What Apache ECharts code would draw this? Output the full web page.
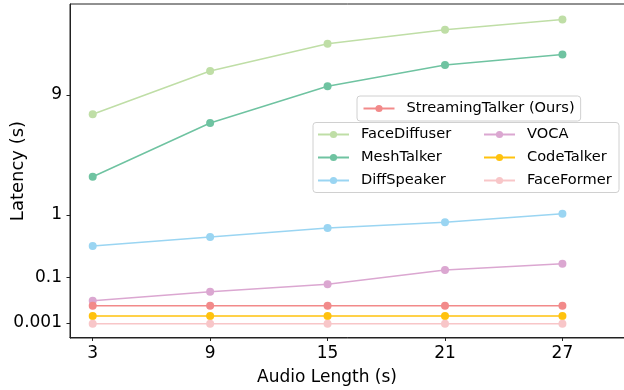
<!DOCTYPE html>
<html>
<head>
<meta charset="utf-8">
<script src="https://cdn.jsdelivr.net/npm/echarts@6/dist/echarts.min.js"></script>
<style>
  html, body { margin: 0; padding: 0; background: #fff; }
  #chart { width: 624px; height: 390px; }
</style>
</head>
<body>
<div id="chart"></div>
<script>
// Audio lengths (s)
const audioLengths = [3, 9, 15, 21, 27];

// Latency (s)
const faceDiffuser    = [6.9, 12.2, 16.7, 19.4, 21.6];
const meshTalker      = [2.39, 6.06, 10.1, 13.1, 14.8];
const diffSpeaker     = [0.388, 0.525, 0.692, 0.815, 1.03];
const voca            = [0.0205, 0.0415, 0.0674, 0.145, 0.194];
const codeTalker      = [0.0036, 0.0036, 0.0036, 0.0036, 0.0036];
const faceFormer      = [0.00086, 0.00086, 0.00086, 0.00086, 0.00086];
const streamingTalker = [0.0128, 0.0128, 0.0128, 0.0128, 0.0128];

// tick labels on the latency axis
const yTicks = [0.001, 0.1, 1, 9];
const xTicks = [3, 9, 15, 21, 27];

// the latency axis is a compressed (power) scale
const POW = 0.31;
const tf = v => Math.pow(v, POW);

const FONT = 'DejaVu Sans';

function makeSeries(name, values, color) {
    return {
        name: name,
        type: 'line',
        data: audioLengths.map((x, i) => [x, tf(values[i])]),
        symbol: 'circle',
        symbolSize: 8,
        lineStyle: { width: 1.5, color: color },
        itemStyle: { color: color },
        emphasis: { disabled: true }
    };
}

const chart = echarts.init(document.getElementById('chart'));

const legendText = { fontFamily: FONT, fontSize: 14.6, color: '#000', lineHeight: 16, padding: [0, 0, 0, 7] };

const option = {
    animation: false,
    grid: {
        left: 70, right: -4, top: 4, bottom: 52,
        outerBoundsMode: 'none',
        containLabel: false,
        show: true, borderColor: '#222', borderWidth: 1, backgroundColor: 'transparent'
    },
    xAxis: {
        type: 'value',
        min: 1.84,
        max: 30.35,
        name: 'Audio Length (s)',
        nameLocation: 'middle',
        nameGap: 31,
        nameMoveOverlap: false,
        nameTextStyle: { fontFamily: FONT, fontSize: 17, color: '#000', padding: [0, 44, 0, 0] },
        axisLine: { show: true, lineStyle: { color: '#222', width: 1 } },
        axisTick: { show: true, inside: false, length: 3.5, customValues: xTicks, lineStyle: { color: '#222' } },
        axisLabel: { customValues: xTicks, fontFamily: FONT, fontSize: 17, color: '#000', margin: 7 },
        splitLine: { show: false }
    },
    yAxis: {
        type: 'value',
        min: -0.0043,
        max: 2.718,
        name: 'Latency (s)',
        nameLocation: 'middle',
        nameGap: 43,
        nameMoveOverlap: false,
        nameTextStyle: { fontFamily: FONT, fontSize: 18, color: '#000' },
        axisLine: { show: true, lineStyle: { color: '#222', width: 1 } },
        axisTick: { show: true, inside: false, length: 3.5, customValues: yTicks.map(tf), lineStyle: { color: '#222' } },
        axisLabel: {
            customValues: yTicks.map(tf),
            fontFamily: FONT, fontSize: 17, color: '#000', margin: 8,
            formatter: v => {
                let best = yTicks[0];
                yTicks.forEach(t => { if (Math.abs(tf(t) - v) < Math.abs(tf(best) - v)) best = t; });
                return String(best);
            }
        },
        splitLine: { show: false }
    },
    legend: [
        {
            data: ['StreamingTalker (Ours)'],
            left: 357, top: 96,
            orient: 'vertical',
            itemWidth: 31, itemHeight: 9,
            padding: [4.5, 6, 4.5, 5.5],
            backgroundColor: 'rgba(255,255,255,0.8)',
            borderColor: '#d0d0d0', borderWidth: 1, borderRadius: 3,
            textStyle: legendText
        },
        {
            data: ['FaceDiffuser', 'MeshTalker', 'DiffSpeaker'],
            left: 313, top: 122.5,
            orient: 'vertical',
            itemGap: 7,
            itemWidth: 31, itemHeight: 9,
            padding: [4, 158, 4, 4],
            backgroundColor: 'rgba(255,255,255,0.8)',
            borderColor: '#d0d0d0', borderWidth: 1, borderRadius: 3,
            textStyle: Object.assign({}, legendText, { width: 100 })
        },
        {
            data: ['VOCA', 'CodeTalker', 'FaceFormer'],
            left: 479, top: 122.5,
            orient: 'vertical',
            itemGap: 7,
            itemWidth: 31, itemHeight: 9,
            padding: [4, 4, 4, 4],
            textStyle: legendText
        }
    ],
    series: [
        makeSeries('FaceDiffuser', faceDiffuser, '#bfdea6'),
        makeSeries('MeshTalker', meshTalker, '#6fc3a1'),
        makeSeries('DiffSpeaker', diffSpeaker, '#9ad5f2'),
        makeSeries('VOCA', voca, '#dba7d1'),
        makeSeries('CodeTalker', codeTalker, '#ffc20e'),
        makeSeries('FaceFormer', faceFormer, '#f8c6c8'),
        makeSeries('StreamingTalker (Ours)', streamingTalker, '#f28a8a')
    ]
};

chart.setOption(option);
</script>
</body>
</html>
